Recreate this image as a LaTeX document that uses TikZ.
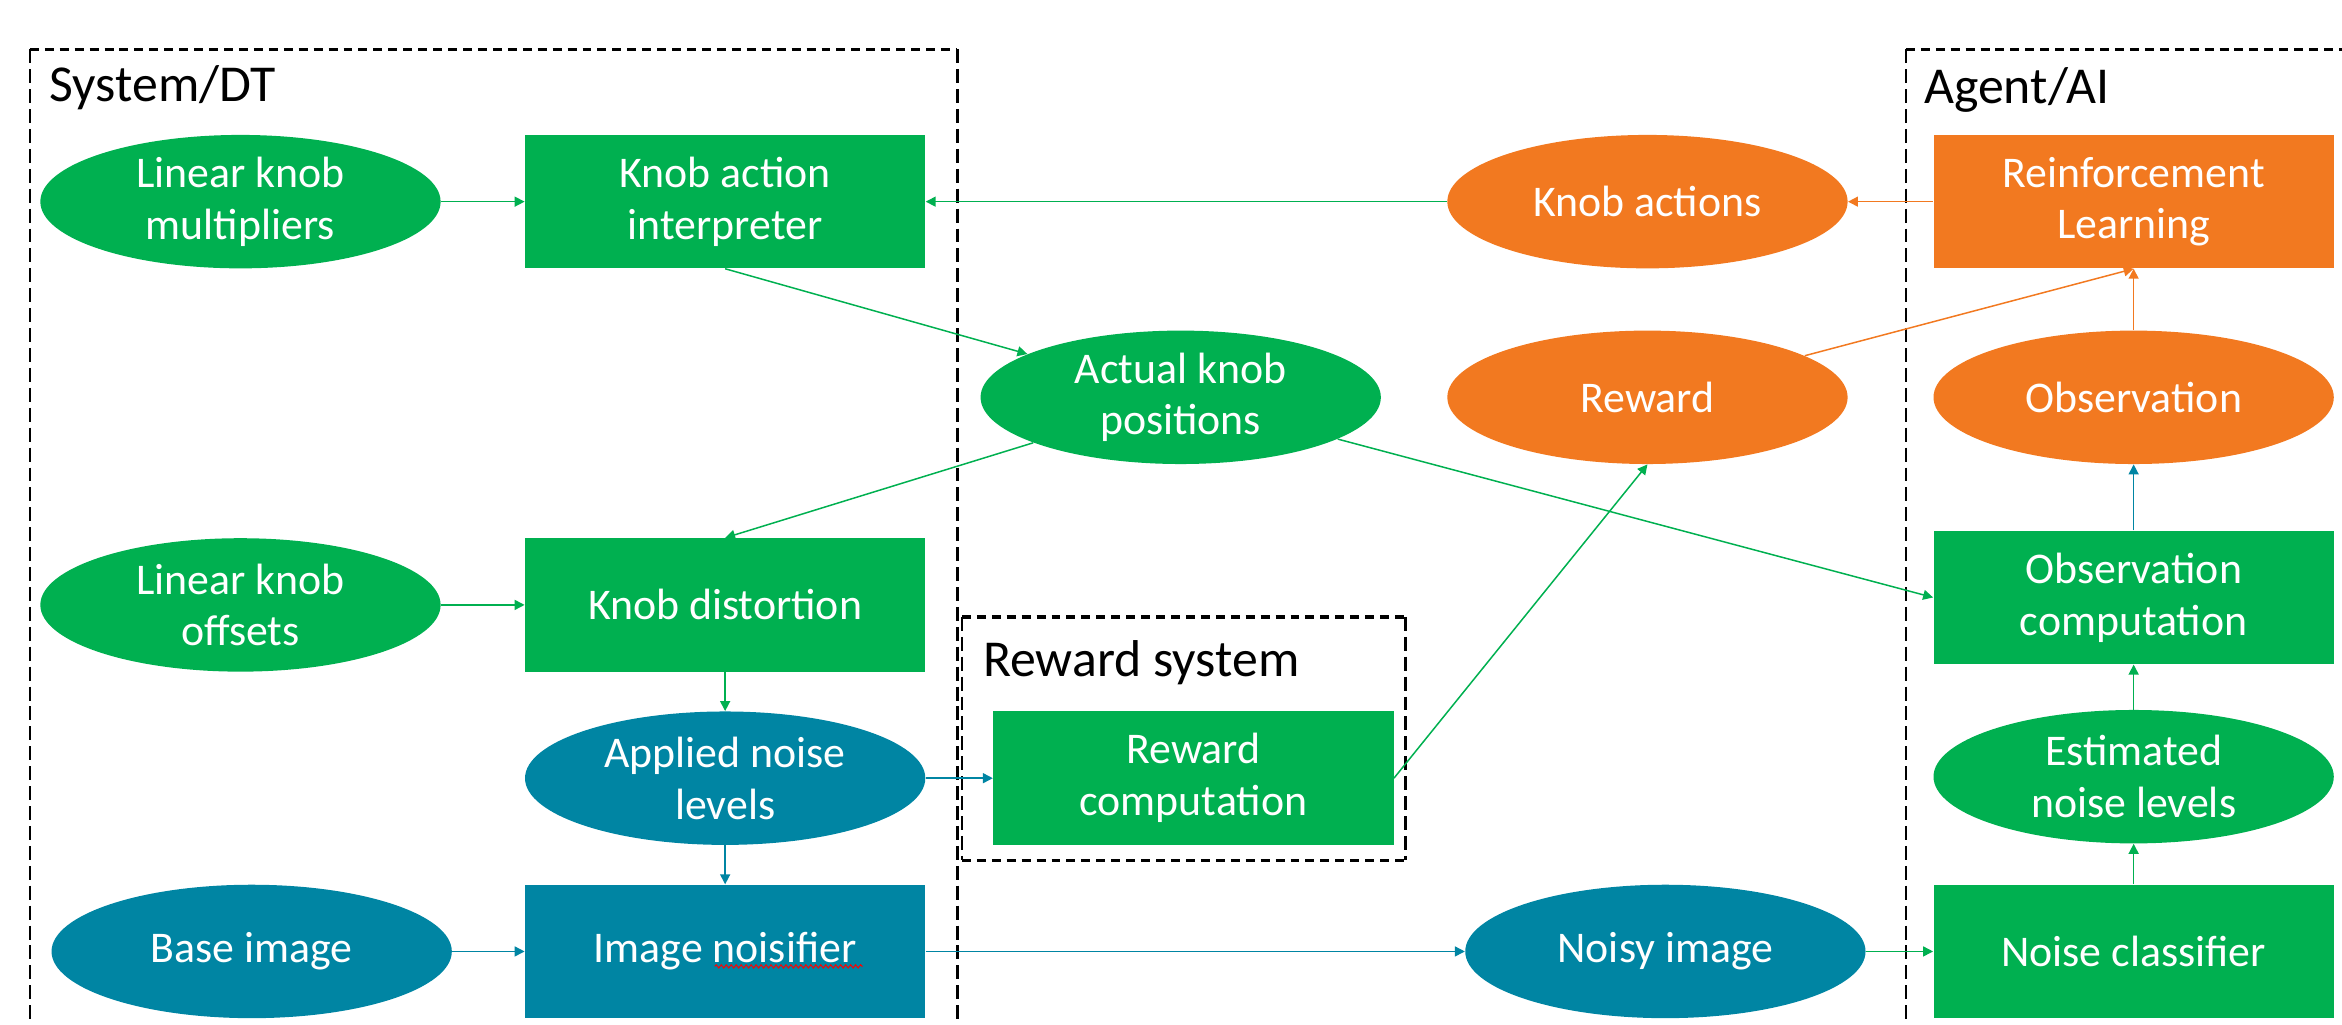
\documentclass[tikz,border=0pt]{standalone}
\usepackage{fontspec}
\setmainfont{Carlito}
\usetikzlibrary{arrows.meta,shapes.geometric,decorations.pathmorphing}

\definecolor{dtgreen}{RGB}{0,176,80}
\definecolor{dtblue}{RGB}{0,133,163}
\definecolor{dtorange}{RGB}{242,121,32}

\begin{document}
\begin{tikzpicture}[x=0.75pt,y=0.75pt,yscale=-1,xscale=1,
  blob/.style={text=white,align=center,inner sep=0pt,minimum width=201pt,minimum height=67pt,font=\fontsize{22}{26}\selectfont},
  greenrect/.style={blob,rectangle,fill=dtgreen},
  greenoval/.style={blob,ellipse,fill=dtgreen},
  bluerect/.style={blob,rectangle,fill=dtblue},
  blueoval/.style={blob,ellipse,fill=dtblue},
  orangerect/.style={blob,rectangle,fill=dtorange},
  orangeoval/.style={blob,ellipse,fill=dtorange},
  link/.style={-{Triangle[length=5pt,width=5pt]},line width=0.75pt},
  greenlink/.style={link,color=dtgreen},
  bluelink/.style={link,color=dtblue},
  orangelink/.style={link,color=dtorange},
  hdash/.style={draw=black,line width=1.7pt,dash pattern=on 4.5pt off 3pt},
  vdash/.style={draw=black,line width=1.1pt,dash pattern=on 7pt off 3pt},
  grouplabel/.style={anchor=base west,inner sep=0pt,font=\fontsize{26}{31}\selectfont},
  spellwave/.style={draw=red,line width=0.5pt,decorate,decoration={snake,amplitude=0.8pt,segment length=2.5pt}}]
%set diagram size: 1568 x 686
\useasboundingbox (0,0) rectangle (1568,686);
\clip (0,0) rectangle (1568,686);

%Dashed groups
\draw [hdash] (20,33) -- (641,33) ;
\draw [vdash] (20,33) -- (20,720) ;
\draw [vdash] (641,33) -- (641,720) ;
\draw [hdash] (1276,33) -- (1580,33) ;
\draw [vdash] (1276,33) -- (1276,720) ;
\draw [hdash] (644,413) -- (941,413) ;
\draw [hdash] (644,576) -- (941,576) ;
\draw [vdash] (644,413) -- (644,576) ;
\draw [vdash] (941,413) -- (941,576) ;

% Text Node
\node [grouplabel] (syslabel) at (33,68) {System/DT};
\node [grouplabel] (agentlabel) at (1288,69) {Agent/AI};
\node [grouplabel] (rewlabel) at (658,453) {Reward system};

%Row 1
\node [greenoval] (mult) at (161,135) {Linear knob\\multipliers};
\node [greenrect] (interp) at (485.5,135) {Knob action\\interpreter};
\node [orangeoval] (knobact) at (1103,135) {Knob actions};
\node [orangerect] (rl) at (1428.5,135) {Reinforcement\\Learning};

%Row 2
\node [greenoval] (actual) at (790.5,266) {Actual knob\\positions};
\node [orangeoval] (reward) at (1103,266) {Reward};
\node [orangeoval] (obs) at (1428.5,266) {Observation};

%Row 3
\node [greenoval] (offsets) at (161,405) {Linear knob\\offsets};
\node [greenrect] (distort) at (485.5,405) {Knob distortion};
\node [greenrect] (obscomp) at (1428.5,400) {Observation\\computation};

%Row 4
\node [blueoval] (applied) at (485.5,521) {Applied noise\\levels};
\node [greenrect] (rewcomp) at (799,521) {Reward\\computation};
\node [greenoval] (estnoise) at (1428.5,520) {Estimated\\noise levels};

%Row 5
\node [blueoval] (baseimg) at (168.5,637) {Base image};
\node [bluerect] (noisifier) at (485.5,637) {Image noisifier};
\node [blueoval] (noisyimg) at (1115,637) {Noisy image};
\node [greenrect] (classifier) at (1428.5,637) {Noise classifier};

%spelling mark under noisifier
\draw [spellwave,shift={(noisifier.center)}] (-7,10) -- (92,10) ;

%Straight Lines
\draw [greenlink] (mult) -- (interp) ;
\draw [greenlink] (knobact) -- (interp) ;
\draw [orangelink] (rl) -- (knobact) ;
\draw [greenlink] (interp.south) -- (actual) ;
\draw [greenlink] (actual) -- (distort.north) ;
\draw [greenlink] (actual) -- (obscomp.west) ;
\draw [greenlink] (rewcomp.east) -- (reward.south) ;
\draw [orangelink] (reward) -- (rl.south) ;
\draw [orangelink] (obs) -- (rl) ;
\draw [bluelink] (obscomp) -- (obs) ;
\draw [greenlink] (estnoise) -- (obscomp) ;
\draw [greenlink] (classifier) -- (estnoise) ;
\draw [greenlink] (noisyimg) -- (classifier) ;
\draw [bluelink] (noisifier) -- (noisyimg) ;
\draw [bluelink] (baseimg) -- (noisifier) ;
\draw [greenlink] (offsets) -- (distort) ;
\draw [greenlink] (distort) -- (applied) ;
\draw [bluelink] (applied) -- (noisifier) ;
\draw [bluelink] (applied) -- (rewcomp) ;

\end{tikzpicture}
\end{document}
